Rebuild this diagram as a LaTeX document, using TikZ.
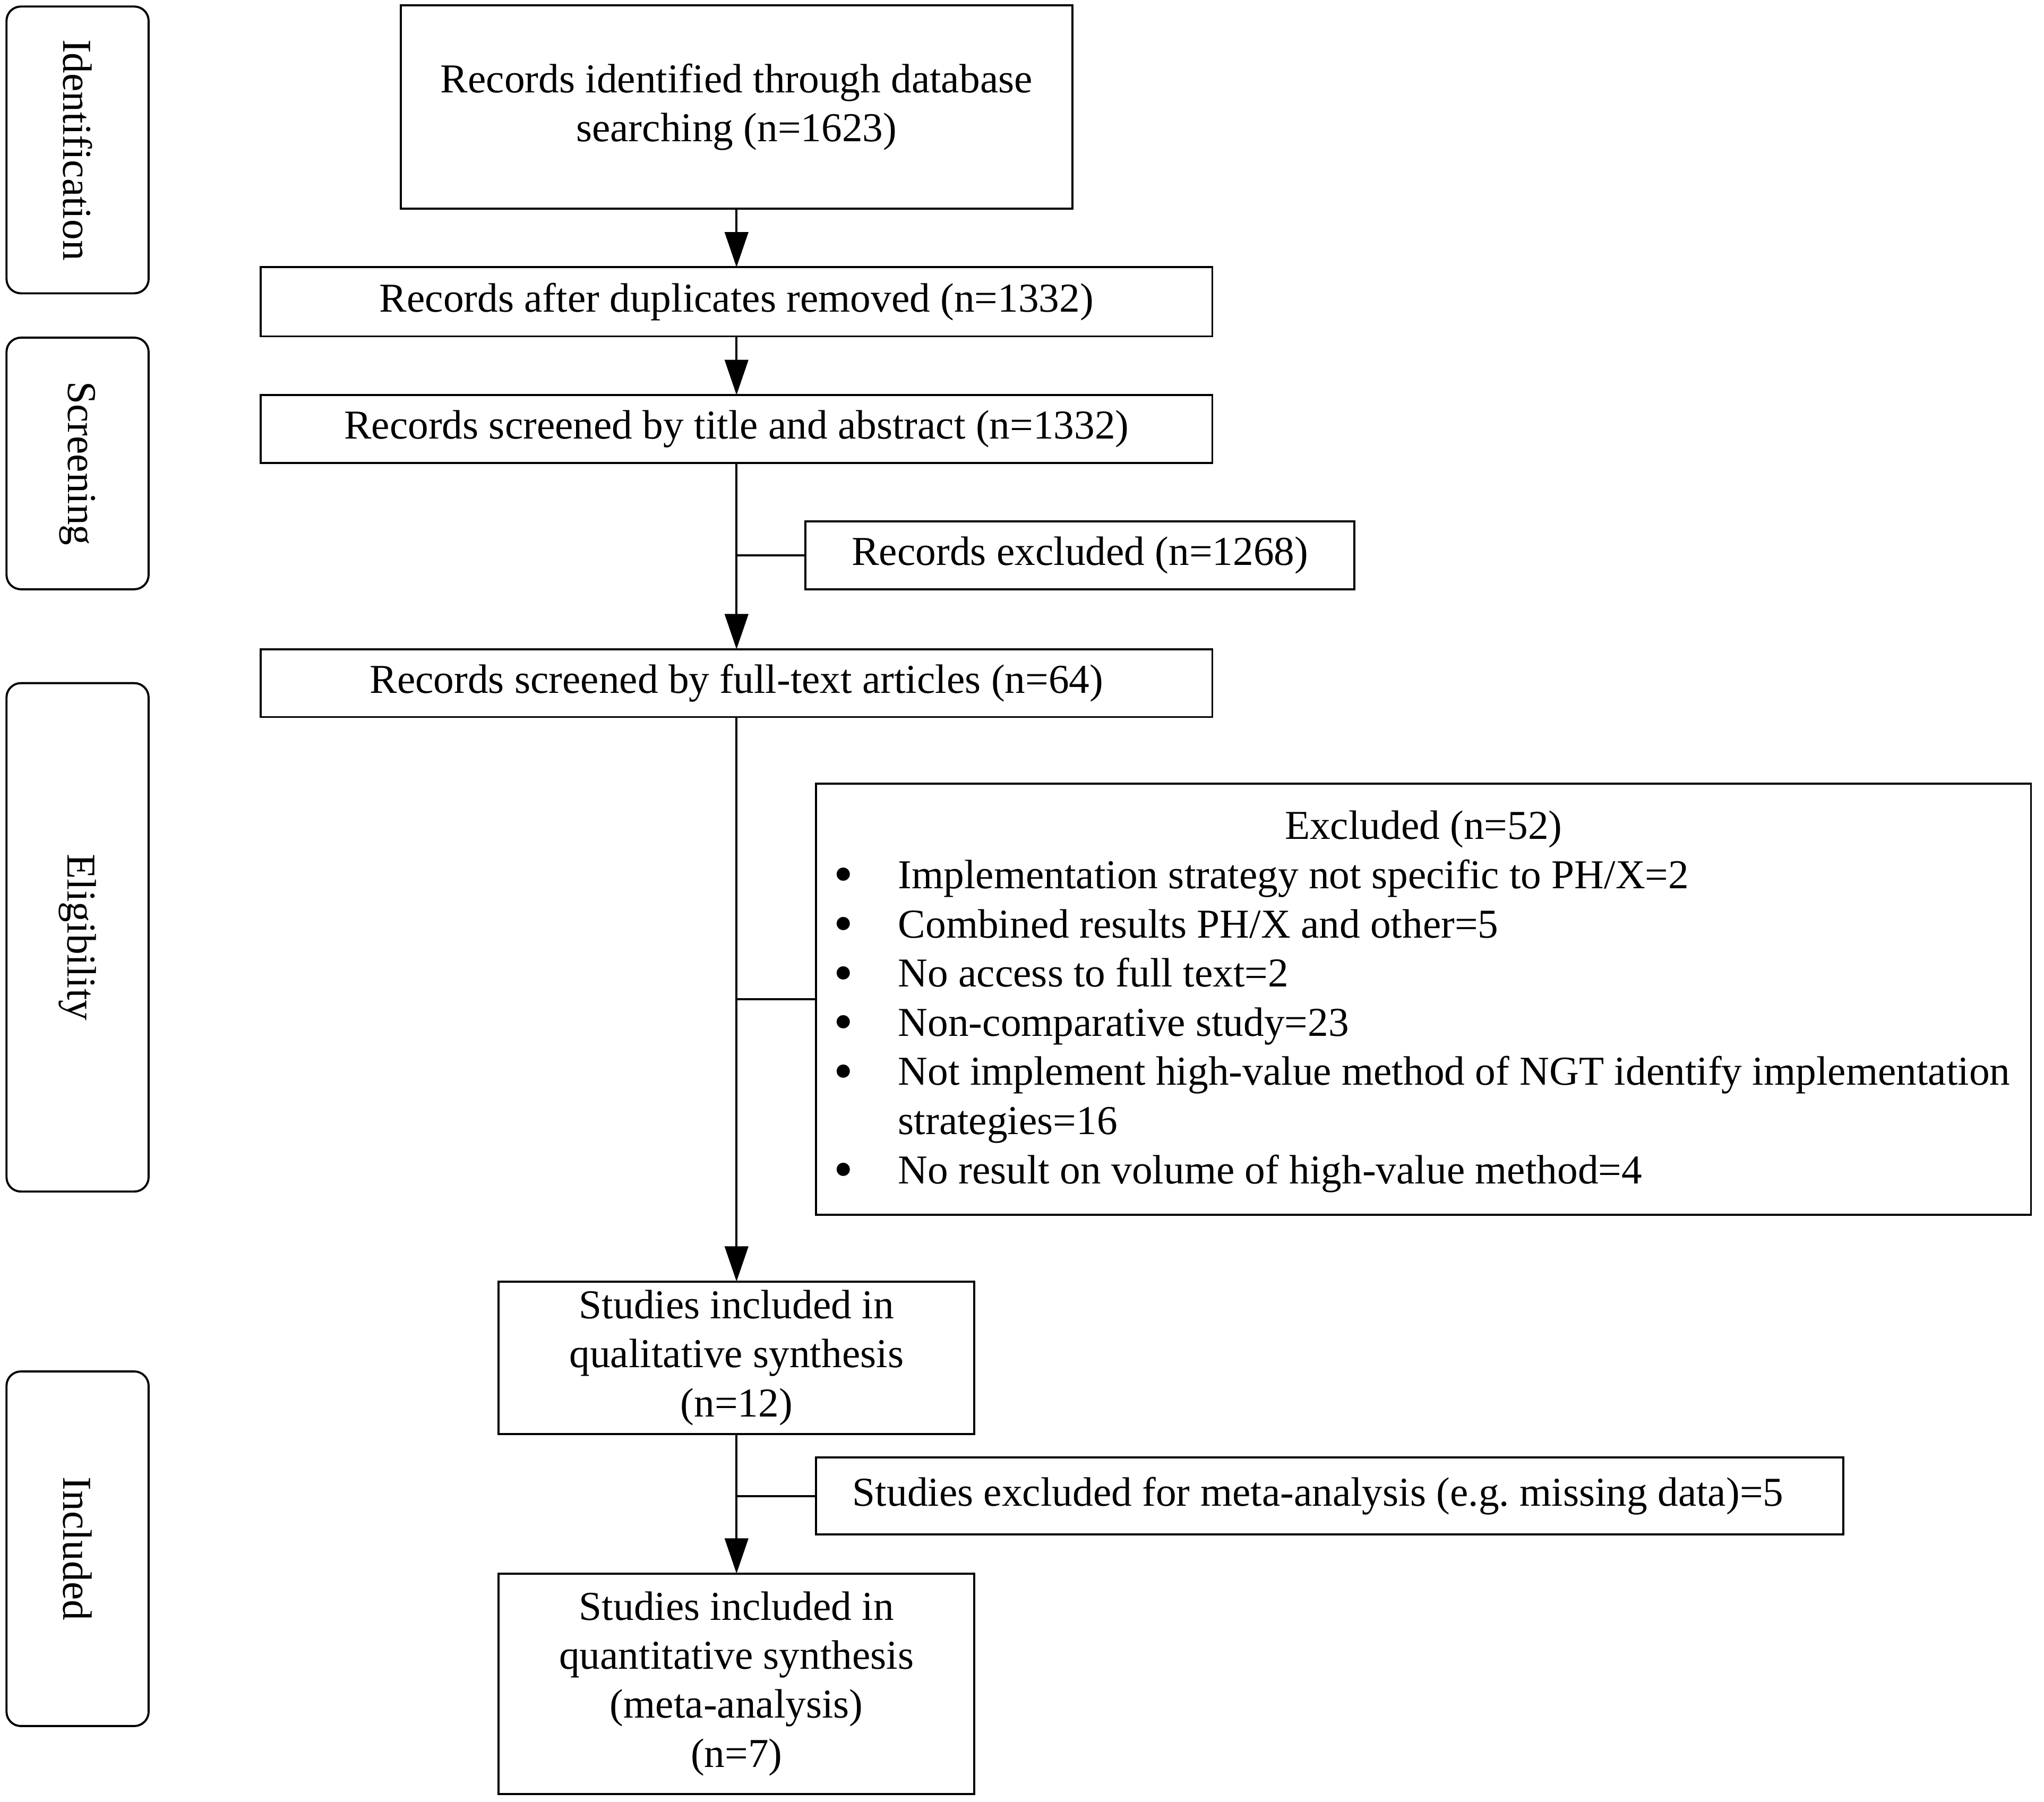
\documentclass[tikz,border=0pt]{standalone}
\usepackage{fontspec}
\setmainfont{Liberation Serif}
\usetikzlibrary{arrows.meta}
\newcommand{\bigbul}{\makebox[49.5pt][l]{\smash{\raisebox{-3.5pt}{\scalebox{1.35}{•}}}}}
\begin{document}
\begin{tikzpicture}[x=1pt,y=-1pt,
  every node/.style={font=\fontsize{31.5}{37.6}\selectfont},
  box/.style={draw, line width=1.6pt, inner sep=0pt, outer sep=0pt, align=center},
  side/.style={draw, line width=1.6pt, rounded corners=11pt, inner sep=0pt, outer sep=0pt},
  txt/.style={inner sep=0pt, outer sep=0pt},
  conn/.style={line width=1.6pt},
  arr/.style={line width=1.6pt, -{Triangle[length=27pt,width=18pt]}},
  ]
\useasboundingbox (0,0) rectangle (1568,1382);

% side phase boxes
\node[side, rotate=-90, minimum width=220pt, minimum height=109pt] (s1) at (59.5,115) {Identification};
\node[side, rotate=-90, minimum width=193pt, minimum height=109pt] (s2) at (59.5,355.5) {Screening};
\node[side, rotate=-90, minimum width=390pt, minimum height=109pt] (s3) at (59.5,719) {Eligibility};
\node[side, rotate=-90, minimum width=272pt, minimum height=109pt] (s4) at (59.5,1188) {Included};

% main boxes
\node[box, minimum width=515pt, minimum height=156pt] (b1) at (565,82) {Records identified through database\\searching (n=1623)};
\node[box, minimum width=730pt, minimum height=53pt] (b2) at (565,231.5) {Records after duplicates removed (n=1332)};
\node[box, minimum width=730pt, minimum height=52pt] (b3) at (565,329) {Records screened by title and abstract (n=1332)};
\node[box, minimum width=421pt, minimum height=52pt] (e1) at (828.5,426) {Records excluded (n=1268)};
\node[box, minimum width=730pt, minimum height=52pt] (b4) at (565,524) {Records screened by full-text articles (n=64)};
\node[box, minimum width=932pt, minimum height=331pt] (e2) at (1092,766.5) {};
\node[box, minimum width=365pt, minimum height=117pt] (b5) at (565,1041.5) {Studies included in\\qualitative synthesis\\(n=12)};
\node[box, inner xsep=28pt, inner ysep=0pt, minimum height=59pt] (e3) at (1020,1147.5) {\makebox[732pt][l]{\frenchspacing Studies excluded for meta-analysis (e.g. missing data)=5}};
\node[box, minimum width=365pt, minimum height=169pt] (b6) at (565,1291.5) {Studies included in\\quantitative synthesis\\(meta-analysis)\\(n=7)};

% contents of the large exclusion box
\node[txt, anchor=base] (t0) at (1092,643.5) {Excluded (n=52)};
\node[txt, anchor=base west] (t1) at (639.5,681.5) {\bigbul Implementation strategy not specific to PH/X=2};
\node[txt, anchor=base west] (t2) at (639.5,719.3) {\bigbul Combined results PH/X and other=5};
\node[txt, anchor=base west] (t3) at (639.5,757) {\bigbul No access to full text=2};
\node[txt, anchor=base west] (t4) at (639.5,794.7) {\bigbul Non-comparative study=23};
\node[txt, anchor=base west] (t5) at (639.5,832.4) {\bigbul Not implement high-value method of NGT identify implementation};
\node[txt, anchor=base west] (t6) at (689,870.1) {strategies=16};
\node[txt, anchor=base west] (t7) at (639.5,907.8) {\bigbul No result on volume of high-value method=4};

% connectors
\draw[arr] (b1.south) -- (b1.south |- b2.north);
\draw[arr] (b2.south) -- (b2.south |- b3.north);
\draw[arr] (b3.south) -- (b3.south |- b4.north);
\draw[conn] (b3.south |- e1.west) -- (e1.west);
\draw[arr] (b4.south) -- (b4.south |- b5.north);
\draw[conn] (b4.south |- e2.west) -- (e2.west);
\draw[arr] (b5.south) -- (b5.south |- b6.north);
\draw[conn] (b5.south |- e3.west) -- (e3.west);
\end{tikzpicture}
\end{document}
